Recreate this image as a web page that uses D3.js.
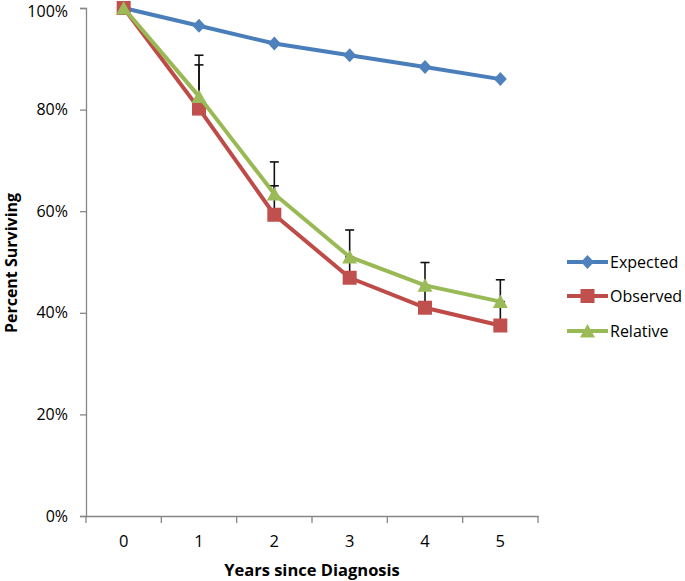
<!DOCTYPE html>
<html><head><meta charset="utf-8">
<script src="https://cdn.jsdelivr.net/npm/d3@7"></script>
<style>body{margin:0;background:#fff;}svg{display:block;}</style>
</head><body>
<svg id="c" width="685" height="581"></svg>
<script>
const years = ["0","1","2","3","4","5"];
const expected = [100, 96.5, 93.0, 90.7, 88.4, 86.0];
const observed = [100, 80.2, 59.3, 46.9, 41.0, 37.5];
const relative = [100, 82.6, 63.4, 51.0, 45.4, 42.2];
const observedErr = [0, 8.6, 5.7, 4.1, 4.4, 4.7];
const relativeErr = [0, 8.1, 6.3, 5.3, 4.5, 4.3];
const yTicks = [0, 20, 40, 60, 80, 100];
const seriesNames = ["Expected", "Observed", "Relative"];

const svg = d3.select("#c");
const font = "'Open Sans', 'Liberation Sans', sans-serif";
const x = d3.scaleBand().domain(years).range([86, 538]);
const y = d3.scaleLinear().domain([0, 100]).range([516, 8]);
const axisColor = "#868686";

// Y axis
const yAxis = svg.append("g").attr("transform", "translate(86,0)")
  .call(d3.axisLeft(y).tickValues(yTicks).tickSize(6).tickPadding(12).tickFormat(d => d + "%"));
yAxis.select(".domain").attr("stroke", axisColor).attr("stroke-width", 1.3);
yAxis.selectAll(".tick line").attr("stroke", axisColor).attr("stroke-width", 1.3);
yAxis.selectAll("text").attr("font-family", font).attr("font-size", 16).attr("fill", "#000")
  .attr("dy", d => d === 100 ? "0.55em" : "0.32em");

// X axis
const xAxis = svg.append("g").attr("transform", "translate(0,516)")
  .call(d3.axisBottom(x).tickSize(0).tickPadding(19));
xAxis.select(".domain").attr("stroke", axisColor).attr("stroke-width", 1.3);
xAxis.selectAll("text").attr("font-family", font).attr("font-size", 16.5).attr("fill", "#000");
const bounds = years.map(d => x(d)).concat([x(years[years.length-1]) + x.bandwidth()]);
svg.append("g").selectAll("line").data(bounds).join("line")
  .attr("x1", d => d).attr("x2", d => d).attr("y1", 516).attr("y2", 523)
  .attr("stroke", axisColor).attr("stroke-width", 1.3);

// Axis titles
svg.append("text").attr("x", 312).attr("y", 576).attr("text-anchor", "middle")
  .attr("font-family", font).attr("font-weight", "bold").attr("font-size", 16.5).text("Years since Diagnosis");
svg.append("text").attr("transform", "translate(17,263) rotate(-90)").attr("text-anchor", "middle")
  .attr("font-family", font).attr("font-weight", "bold").attr("font-size", 16).text("Percent Surviving");

const cx = d => x(d) + x.bandwidth() / 2;

// Error bars (behind markers)
function errBars(vals, errs) {
  const g = svg.append("g");
  years.forEach((d, i) => {
    if (errs[i] <= 0) return;
    const top = y(vals[i] + errs[i]);
    g.append("line").attr("x1", cx(d)).attr("x2", cx(d)).attr("y1", y(vals[i])).attr("y2", top)
      .attr("stroke", "#111").attr("stroke-width", 1.6);
    g.append("line").attr("x1", cx(d) - 4.5).attr("x2", cx(d) + 4.5).attr("y1", top).attr("y2", top)
      .attr("stroke", "#111").attr("stroke-width", 1.6);
  });
}
errBars(observed, observedErr);
errBars(relative, relativeErr);

const line = d3.line().x((v, i) => cx(years[i])).y(v => y(v));
const colors = ["#4A7EBB", "#BE4B48", "#98B954"];
const fills = ["#4F81BD", "#C0504D", "#9BBB59"];
const data = [expected, observed, relative];

function marker(g, k, px, py) {
  if (k === 0) {
    g.append("path").attr("d", `M${px},${py-7}L${px+6.5},${py}L${px},${py+7}L${px-6.5},${py}Z`).attr("fill", fills[0]);
  } else if (k === 1) {
    g.append("rect").attr("x", px - 7).attr("y", py - 7).attr("width", 14).attr("height", 14).attr("fill", fills[1]);
  } else {
    g.append("path").attr("d", `M${px},${py-7}L${px+7.5},${py+6.5}L${px-7.5},${py+6.5}Z`).attr("fill", fills[2]);
  }
}

data.forEach((vals, k) => {
  svg.append("path").datum(vals).attr("d", line).attr("fill", "none")
    .attr("stroke", colors[k]).attr("stroke-width", 4).attr("stroke-linejoin", "round");
  const g = svg.append("g");
  vals.forEach((v, i) => marker(g, k, cx(years[i]), y(v)));
});

// Legend
const legY = [262, 296, 331];
seriesNames.forEach((n, k) => {
  const g = svg.append("g");
  g.append("line").attr("x1", 567).attr("x2", 608).attr("y1", legY[k]).attr("y2", legY[k])
    .attr("stroke", colors[k]).attr("stroke-width", 4);
  marker(g, k, 587.5, legY[k]);
  g.append("text").attr("x", 610).attr("y", legY[k] + 6).attr("font-family", font).attr("font-size", 16).text(n);
});
</script>
</body></html>
